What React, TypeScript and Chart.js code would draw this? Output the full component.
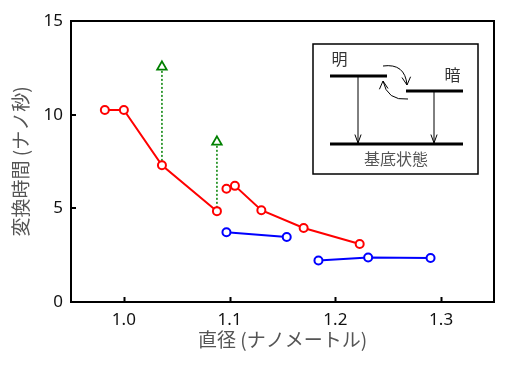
import React, { useEffect, useRef } from "react";
import { Chart, registerables } from "chart.js";

Chart.register(...registerables);

// ---- data ----
const red1X = [0.982, 1.0, 1.036, 1.088];
const red1Y = [10.25, 10.25, 7.3, 4.85];
const red2X = [1.097, 1.105, 1.13, 1.17, 1.223];
const red2Y = [6.05, 6.2, 4.9, 3.95, 3.1];
const blue1X = [1.097, 1.154];
const blue1Y = [3.72, 3.47];
const blue2X = [1.184, 1.231, 1.29];
const blue2Y = [2.22, 2.38, 2.35];
const greenX = [1.036, 1.088];
const greenY = [12.55, 8.55];
const greenLinkIdx = [2, 3]; // index into red1 for dotted link
const xTickValues = [1.0, 1.1, 1.2, 1.3];
const yTickValues = [0, 5, 10, 15];
const xTitle = "直径 (ナノメートル)";
const yTitle = "変換時間 (ナノ秒)";
const insetBright = "明";
const insetDark = "暗";
const insetGround = "基底状態";

const pts = (xs: number[], ys: number[]) => xs.map((x, i) => ({ x, y: ys[i] }));

const RED = "#ff0000";
const BLUE = "#0000ff";
const GREEN = "#008000";
const TICK_FONT = "'Noto Sans', 'DejaVu Sans', sans-serif";
const CJK_FONT = "'Noto Sans CJK JP', 'Noto Sans', sans-serif";

function arrowHead(ctx: CanvasRenderingContext2D, tx: number, ty: number, fx: number, fy: number, len = 9, ang = 0.42) {
  const a = Math.atan2(ty - fy, tx - fx);
  ctx.beginPath();
  ctx.moveTo(tx - len * Math.cos(a - ang), ty - len * Math.sin(a - ang));
  ctx.lineTo(tx, ty);
  ctx.lineTo(tx - len * Math.cos(a + ang), ty - len * Math.sin(a + ang));
  ctx.stroke();
}

const framePlugin = {
  id: "framePlugin",
  afterDraw(chart: any) {
    const { ctx, chartArea: a, scales } = chart;
    const x = scales.x;
    const y = scales.y;
    ctx.save();
    ctx.strokeStyle = "#000";
    ctx.lineWidth = 2;
    ctx.strokeRect(a.left, a.top, a.right - a.left, a.bottom - a.top);
    ctx.beginPath();
    xTickValues.forEach((v) => {
      const px = Math.round(x.getPixelForValue(v)) + 0.5;
      ctx.moveTo(px, a.bottom);
      ctx.lineTo(px, a.bottom - 5);
    });
    yTickValues.forEach((v) => {
      const py = Math.round(y.getPixelForValue(v));
      ctx.moveTo(a.left, py);
      ctx.lineTo(a.left + 5, py);
    });
    ctx.stroke();

    // inset diagram
    const L = a.left + 242;
    const T = a.top + 23;
    ctx.lineWidth = 1.5;
    ctx.strokeRect(L, T, 165, 130);

    ctx.lineWidth = 3;
    ctx.beginPath();
    ctx.moveTo(L + 17, T + 32);
    ctx.lineTo(L + 74, T + 32);
    ctx.moveTo(L + 93, T + 47);
    ctx.lineTo(L + 150, T + 47);
    ctx.moveTo(L + 17, T + 100);
    ctx.lineTo(L + 150, T + 100);
    ctx.stroke();

    ctx.lineWidth = 1;
    ctx.beginPath();
    ctx.moveTo(L + 45, T + 32);
    ctx.lineTo(L + 45, T + 99);
    ctx.moveTo(L + 121, T + 47);
    ctx.lineTo(L + 121, T + 99);
    ctx.stroke();
    arrowHead(ctx, L + 45, T + 99, L + 45, T + 80, 9, 0.35);
    arrowHead(ctx, L + 121, T + 99, L + 121, T + 80, 9, 0.35);

    // curved arrows
    ctx.beginPath();
    ctx.moveTo(L + 70, T + 22);
    ctx.quadraticCurveTo(L + 92, T + 19, L + 94, T + 41);
    ctx.stroke();
    arrowHead(ctx, L + 94, T + 41, L + 93, T + 30, 9, 0.5);
    ctx.beginPath();
    ctx.moveTo(L + 95, T + 55);
    ctx.quadraticCurveTo(L + 74, T + 57, L + 70, T + 37);
    ctx.stroke();
    arrowHead(ctx, L + 70, T + 37, L + 71, T + 48, 9, 0.5);

    ctx.fillStyle = "#333";
    ctx.font = `16px ${CJK_FONT}`;
    ctx.textAlign = "center";
    ctx.textBaseline = "middle";
    ctx.fillText(insetBright, L + 26.5, T + 15);
    ctx.fillText(insetDark, L + 139.5, T + 31);
    ctx.fillStyle = "#555";
    ctx.fillText(insetGround, L + 83, T + 114.5);
    ctx.restore();
  },
};

export default function App() {
  const ref = useRef<HTMLCanvasElement | null>(null);
  useEffect(() => {
    document.body.style.margin = "0";
    if (!ref.current) return;
    const circle = (color: string) => ({
      borderColor: color,
      backgroundColor: "#fff",
      pointBorderColor: color,
      pointBackgroundColor: "#fff",
      pointRadius: 4,
      pointBorderWidth: 2,
      borderWidth: 2,
      showLine: true,
      fill: false,
      tension: 0,
    });
    const dotted = greenX.map((gx, i) => ({
      data: [
        { x: gx, y: greenY[i] },
        { x: gx, y: red1Y[greenLinkIdx[i]] },
      ],
      borderColor: GREEN,
      borderWidth: 1.5,
      borderDash: [2, 2],
      pointRadius: 0,
      showLine: true,
      fill: false,
    }));
    const chart = new Chart(ref.current, {
      type: "scatter",
      data: {
        datasets: [
          { data: pts(red1X, red1Y), ...circle(RED) },
          { data: pts(red2X, red2Y), ...circle(RED) },
          { data: pts(blue1X, blue1Y), ...circle(BLUE) },
          { data: pts(blue2X, blue2Y), ...circle(BLUE) },
          {
            data: pts(greenX, greenY),
            pointStyle: "triangle",
            pointRadius: 5.5,
            pointBorderWidth: 1.8,
            pointBorderColor: GREEN,
            pointBackgroundColor: "#fff",
            borderColor: GREEN,
            backgroundColor: "#fff",
            showLine: false,
          },
          ...dotted,
        ] as any,
      },
      options: {
        animation: false,
        responsive: false,
        devicePixelRatio: 1,
        layout: { padding: { top: 21, right: 14, left: 0, bottom: 0 } },
        plugins: { legend: { display: false }, tooltip: { enabled: false } },
        scales: {
          x: {
            type: "linear",
            min: 0.95,
            max: 1.35,
            grid: { display: false, drawTicks: false },
            border: { display: false },
            afterBuildTicks: (s: any) => {
              s.ticks = xTickValues.map((v) => ({ value: v }));
            },
            afterFit: (s: any) => {
              s.height = 72;
            },
            ticks: {
              padding: 8,
              color: "#111",
              font: { size: 17, family: TICK_FONT },
              callback: (v: any) => Number(v).toFixed(1),
              maxRotation: 0,
            },
            title: {
              display: true,
              text: xTitle,
              color: "#555",
              font: { size: 19, family: CJK_FONT },
              padding: { top: 0, bottom: 23 },
            },
          },
          y: {
            type: "linear",
            min: 0,
            max: 15,
            grid: { display: false, drawTicks: false },
            border: { display: false },
            afterBuildTicks: (s: any) => {
              s.ticks = yTickValues.map((v) => ({ value: v }));
            },
            afterFit: (s: any) => {
              s.width = 71;
            },
            ticks: {
              padding: 8,
              color: "#111",
              font: { size: 17, family: TICK_FONT },
            },
            title: {
              display: true,
              text: yTitle,
              color: "#555",
              font: { size: 19, family: CJK_FONT },
              padding: { top: 9, bottom: 0 },
            },
          },
        },
      },
      plugins: [framePlugin],
    } as any);
    return () => chart.destroy();
  }, []);
  return (
    <div style={{ position: "absolute", left: 0, top: 0, width: 508, height: 374 }}>
      <canvas ref={ref} width={508} height={374} style={{ width: 508, height: 374 }} />
    </div>
  );
}
